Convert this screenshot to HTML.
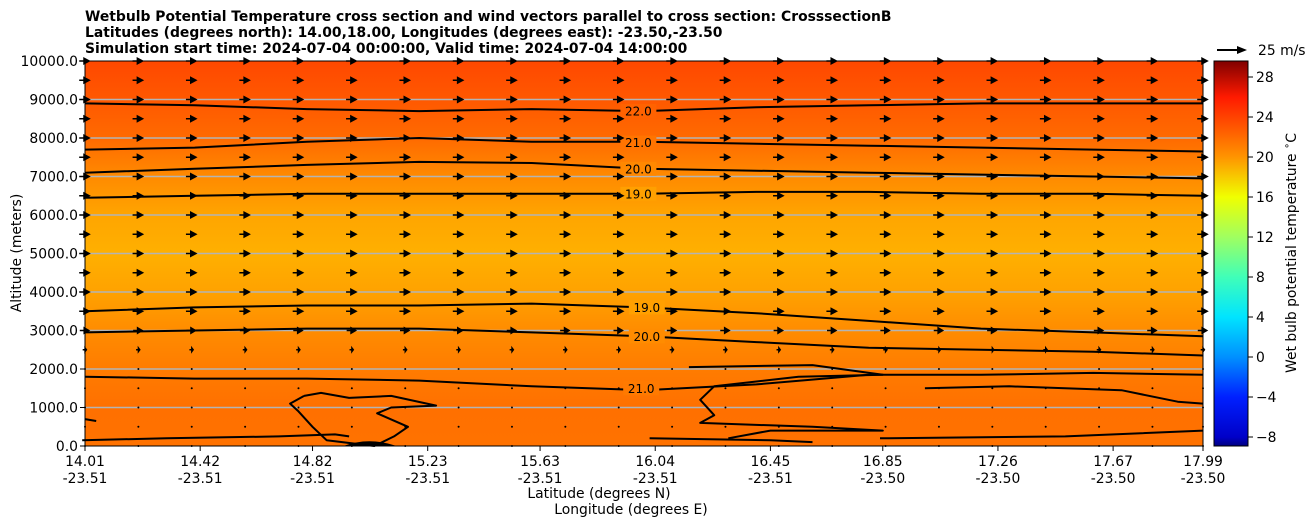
<!DOCTYPE html>
<html><head><meta charset="utf-8">
<style>
body{margin:0;background:#fff;font-family:"Liberation Sans","DejaVu Sans",sans-serif;}
svg text{font-family:"DejaVu Sans","Liberation Sans",sans-serif;}
</style></head>
<body>
<svg id="chart" width="1311" height="526" xmlns="http://www.w3.org/2000/svg">
<defs>
<linearGradient id="bg" x1="0" y1="0" x2="0" y2="1">
<stop offset="0" stop-color="#ff4800"/>
<stop offset="0.1" stop-color="#ff5800"/>
<stop offset="0.2" stop-color="#ff6a00"/>
<stop offset="0.3" stop-color="#ff8a00"/>
<stop offset="0.4" stop-color="#ffa500"/>
<stop offset="0.5" stop-color="#ffb000"/>
<stop offset="0.6" stop-color="#ffa200"/>
<stop offset="0.7" stop-color="#ff8c00"/>
<stop offset="0.8" stop-color="#ff7c00"/>
<stop offset="0.9" stop-color="#ff7000"/>
<stop offset="1" stop-color="#ff7200"/>
</linearGradient>
<linearGradient id="cbar" x1="0" y1="0" x2="0" y2="1">
<stop offset="0" stop-color="#800000"/>
<stop offset="0.094" stop-color="#ff1a00"/>
<stop offset="0.197" stop-color="#ff6a00"/>
<stop offset="0.249" stop-color="#ff9400"/>
<stop offset="0.353" stop-color="#f0ff00"/>
<stop offset="0.457" stop-color="#a0ff60"/>
<stop offset="0.561" stop-color="#40ffb8"/>
<stop offset="0.665" stop-color="#00e4ff"/>
<stop offset="0.769" stop-color="#0090ff"/>
<stop offset="0.873" stop-color="#0020ff"/>
<stop offset="0.977" stop-color="#0000c8"/>
<stop offset="1" stop-color="#000080"/>
</linearGradient>
</defs>
<g font-size="13.9" font-weight="bold">
<text x="85" y="21">Wetbulb Potential Temperature cross section and wind vectors parallel to cross section: CrosssectionB</text>
<text x="85" y="37">Latitudes (degrees north): 14.00,18.00, Longitudes (degrees east): -23.50,-23.50</text>
<text x="85" y="53">Simulation start time: 2024-07-04 00:00:00, Valid time: 2024-07-04 14:00:00</text>
</g>
<rect x="85" y="61" width="1118" height="385" fill="url(#bg)"/>
<g id="grid"></g>
<g id="contours"></g>
<g id="arrows"></g>
<rect x="85" y="61" width="1118" height="385" fill="none" stroke="#000" stroke-width="1"/>
<g id="yaxis"></g>
<g id="xaxis"></g>
<text transform="translate(21,253) rotate(-90)" text-anchor="middle" font-size="13.9">Altitude (meters)</text>
<text x="599" y="498" text-anchor="middle" font-size="13.9">Latitude (degrees N)</text>
<text x="631" y="514" text-anchor="middle" font-size="13.9">Longitude (degrees E)</text>
<g>
<line x1="1217" y1="50" x2="1239" y2="50" stroke="#000" stroke-width="2"/>
<polygon points="1237,46 1247,50 1237,54" fill="#000"/>
<text x="1258" y="55" font-size="13.9">25 m/s</text>
</g>
<rect x="1214" y="61" width="34" height="385" fill="url(#cbar)" stroke="#000" stroke-width="1"/>
<g id="cbticks"></g>
<text transform="translate(1296,253) rotate(-90)" text-anchor="middle" font-size="13.9">Wet bulb potential temperature <tspan font-size="10" dy="-6">∘</tspan><tspan dy="6">C</tspan></text>
</svg>
<script>
const yTicks=[0,1000,2000,3000,4000,5000,6000,7000,8000,9000,10000];
const xTickLat=["14.01","14.42","14.82","15.23","15.63","16.04","16.45","16.85","17.26","17.67","17.99"];
const xTickLon=["-23.51","-23.51","-23.51","-23.51","-23.51","-23.51","-23.51","-23.50","-23.50","-23.50","-23.50"];
const cbTicks=[-8,-4,0,4,8,12,16,20,24,28];
const sampleLats=[14.0,14.4,14.8,15.2,15.6,16.0,16.4,16.8,17.2,17.6,18.0];
const c22top=[8900,8850,8750,8700,8750,8700,8800,8850,8900,8900,8900];
const c21top=[7700,7750,7900,8000,7900,7900,7850,7800,7750,7700,7650];
const c20top=[7100,7200,7300,7380,7350,7200,7150,7100,7050,7000,6950];
const c19top=[6450,6500,6550,6550,6550,6550,6600,6600,6550,6550,6500];
const c19low=[3500,3600,3650,3650,3700,3600,3450,3250,3050,2950,2850];
const c20low=[2950,3000,3050,3050,2950,2850,2700,2550,2500,2450,2350];
const c21low=[1800,1750,1750,1700,1550,1450,1600,1850,1850,1900,1850];
const windLevels=[0,500,1000,1500,2000,2500,3000,3500,4000,4500,5000,5500,6000,6500,7000,7500,8000,8500,9000,9500,10000];
const windSpeed=[0.3,0.4,0.4,0.4,0.4,4,9,10,10,10,10,10,10,10,10,10,10,10,10,10,10];
const windLats=[14.01,14.2,14.39,14.58,14.77,14.96,15.15,15.34,15.53,15.72,15.91,16.1,16.29,16.48,16.67,16.86,17.05,17.24,17.43,17.62,17.81,17.99];
const loopA=[[14.79,1300],[14.85,1380],[14.95,1250],[15.1,1300],[15.26,1050],[15.1,1000],[15.05,850],[15.16,500],[15.11,250],[15.04,0],[14.87,150],[14.82,500],[14.77,900],[14.74,1100],[14.79,1300]];
const loopB=[[16.16,2050],[16.6,2100],[16.85,1850],[16.55,1800],[16.25,1550],[16.2,1200],[16.25,800],[16.2,600],[16.6,500],[16.85,400],[16.45,400],[16.3,200]];
const lineC=[[16.02,200],[16.45,150],[16.6,100]];
const lineD=[[17.0,1500],[17.3,1550],[17.7,1450],[17.9,1150],[17.99,1100]];
const lineE=[[16.84,200],[17.5,250],[17.99,400]];
const lineF=[[14.0,150],[14.3,200],[14.7,250],[14.9,300],[14.95,250]];
const lineG=[[14.01,700],[14.05,650]];

const X0=85,X1=1203,Y0=446,Y1=61;
const xs=lat=>X0+(lat-14.01)/(17.99-14.01)*(X1-X0);
const ys=a=>Y0-(a/10000)*(Y0-Y1);
const NS="http://www.w3.org/2000/svg";
function mk(tag,parent,attrs){const e=document.createElementNS(NS,tag);for(const k in attrs)e.setAttribute(k,attrs[k]);parent.appendChild(e);return e;}
const grid=document.getElementById('grid'),cont=document.getElementById('contours'),arr=document.getElementById('arrows');
const yax=document.getElementById('yaxis'),xax=document.getElementById('xaxis'),cbt=document.getElementById('cbticks');
yTicks.forEach(v=>{
  const y=ys(v);
  if(v>0&&v<10000){const g=mk('line',grid,{x1:X0,x2:X1,y1:y,y2:y,stroke:'#b4b4b4','stroke-width':1.5});
  
  }
  const t=mk('line',yax,{x1:X0-5,x2:X0,y1:y,y2:y,stroke:'#000'});
  
  
  const l=mk('text',yax,{x:X0-7,y:y+5,'text-anchor':'end','font-size':13.9});
  
  
  l.textContent=v.toFixed(1);
});
xTickLat.forEach((lat,i)=>{
  const x=xs(parseFloat(lat));
  const t=mk('line',xax,{x1:x,x2:x,y1:Y0,y2:Y0+5,stroke:'#000'});
  
  
  const l=mk('text',xax,{x:x,y:466,'text-anchor':'middle','font-size':13.9});
  
  
  l.textContent=lat;
  const l2=mk('text',xax,{x:x,y:483,'text-anchor':'middle','font-size':13.9});
  
  
  l2.textContent=xTickLon[i];
});
cbTicks.forEach(v=>{
  const y=61+(29.6-v)/38.5*385;
  const t=mk('line',cbt,{x1:1248,x2:1253,y1:y,y2:y,stroke:'#000'});
  
  
  const l=mk('text',cbt,{x:1256,y:y+5,'font-size':13.9});
  
  
  l.textContent=(v<0?'\u2212'+(-v):String(v));
});
function drawSeries(vals,name){
  const d=vals.map((v,i)=>(i?'L':'M')+xs(Math.min(Math.max(sampleLats[i],14.01),17.99)).toFixed(1)+','+ys(v).toFixed(1)).join('');
  const p=mk('path',cont,{d:d,fill:'none',stroke:'#000','stroke-width':2,'stroke-linejoin':'round'});
  
  
}
function drawPairs(pts,name){
  const d=pts.map((p,i)=>(i?'L':'M')+xs(p[0]).toFixed(1)+','+ys(p[1]).toFixed(1)).join('');
  const p=mk('path',cont,{d:d,fill:'none',stroke:'#000','stroke-width':2,'stroke-linejoin':'round'});
  
  
}
drawSeries(c22top,'contour-22-upper');
drawSeries(c21top,'contour-21-upper');
drawSeries(c20top,'contour-20-upper');
drawSeries(c19top,'contour-19-upper');
drawSeries(c19low,'contour-19-lower');
drawSeries(c20low,'contour-20-lower');
drawSeries(c21low,'contour-21-lower');
drawPairs(loopA,'contour-22-loop');
drawPairs(loopB,'contour-21-loop');
drawPairs(lineC,'contour-21-bottom');
drawPairs(lineD,'contour-21-right');
drawPairs(lineE,'contour-21-bottom-right');
drawPairs(lineF,'contour-22-bottom-left');
drawPairs(lineG,'contour-22-left');
const hill=mk('path',cont,{d:`M${xs(14.93)},${Y0} Q${xs(15.02)},${ys(250)} ${xs(15.12)},${Y0} Z`,fill:'#000'});


const labels=[["22.0",15.98,8700,'#ff6200'],["21.0",15.98,7880,'#ff7400'],["20.0",15.98,7200,'#ff8800'],["19.0",15.98,6550,'#ffa000'],["19.0",16.01,3600,'#ffa000'],["20.0",16.01,2850,'#ff8c00'],["21.0",15.99,1500,'#ff7a00']];
labels.forEach(l=>{
  const x=xs(l[1]),y=ys(l[2]);
  const r=mk('rect',cont,{x:x-18,y:y-7,width:36,height:14,fill:l[3]});
  const t=mk('text',cont,{x:x,y:y+4.5,'text-anchor':'middle','font-size':12});
  
  
  t.textContent=l[0];
});
const pxPerMs=29/25;
windLevels.forEach((lev,j)=>{
  const y=ys(lev),L=windSpeed[j]*pxPerMs;
  windLats.forEach(lat=>{
    const x=xs(lat);
    const g=mk('g',arr,{});
    
    
    if(L<2){mk('circle',g,{cx:x,cy:y,r:1,fill:'#000'});return;}
    const head=Math.min(8,L*0.65);
    mk('line',g,{x1:x-L/2,y1:y,x2:x+L/2-head+1,y2:y,stroke:'#000','stroke-width':1.5});
    mk('polygon',g,{points:`${x+L/2-head},${y-4} ${x+L/2},${y} ${x+L/2-head},${y+4}`,fill:'#000'});
  });
});
</script>
</body></html>
